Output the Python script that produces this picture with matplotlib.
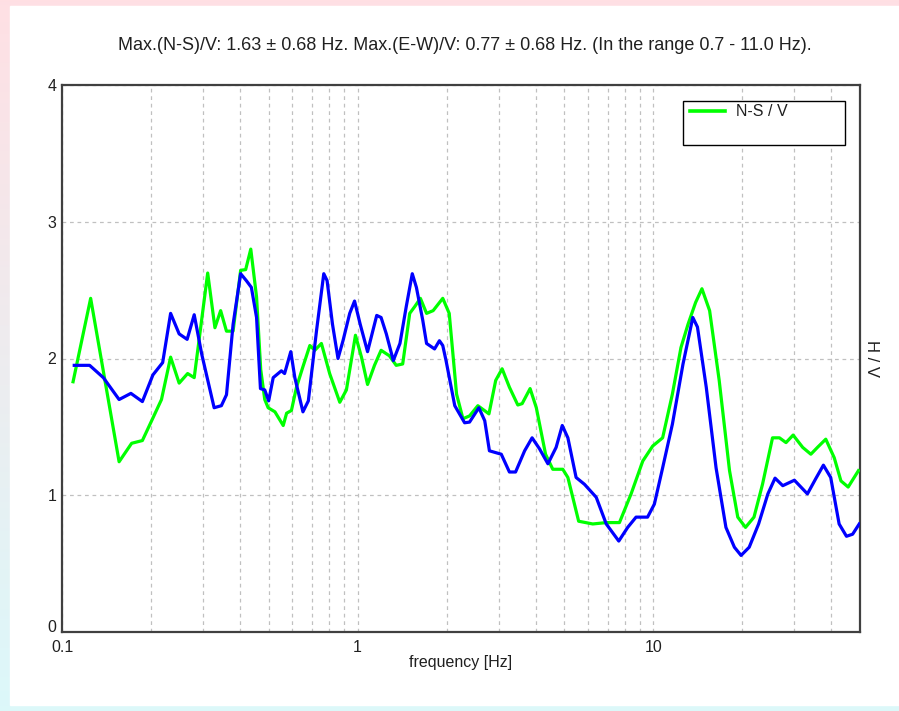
import numpy as np
import matplotlib
matplotlib.use("Agg")
import matplotlib.pyplot as plt
import matplotlib.transforms as mtransforms
from matplotlib.patches import Rectangle
from matplotlib.lines import Line2D
from matplotlib.ticker import FixedLocator, NullFormatter

plt.rcParams['font.family'] = ['Liberation Sans', 'DejaVu Sans']

title = "Max.(N-S)/V: 1.63 \u00b1 0.68 Hz. Max.(E-W)/V: 0.77 \u00b1 0.68 Hz. (In the range 0.7 - 11.0 Hz)."

# N-S / V curve (green)
ns_freq = [0.109, 0.125, 0.156, 0.172, 0.187, 0.201, 0.217, 0.233, 0.249, 0.266,
           0.280, 0.311, 0.329, 0.344, 0.360, 0.379, 0.402, 0.418, 0.435, 0.455,
           0.470, 0.485, 0.498, 0.525, 0.560, 0.575, 0.597, 0.621, 0.653, 0.689,
           0.716, 0.754, 0.804, 0.870, 0.916, 0.983, 1.03, 1.08, 1.14, 1.20,
           1.28, 1.35, 1.42, 1.50, 1.56, 1.63, 1.71, 1.80, 1.94, 2.04,
           2.16, 2.27, 2.39, 2.55, 2.78, 2.93, 3.08, 3.26, 3.48, 3.60,
           3.83, 4.02, 4.32, 4.57, 4.94, 5.14, 5.59, 6.24, 6.93, 7.68,
           8.41, 9.21, 9.95, 10.75, 11.6, 12.4, 13.1, 13.9, 14.6, 15.5,
           16.7, 18.1, 19.3, 20.5, 21.9, 23.4, 25.3, 26.7, 28.1, 29.7,
           32.0, 34.1, 35.9, 38.3, 40.9, 43.1, 45.6, 49.4]
ns_hv = [1.83, 2.44, 1.245, 1.38, 1.40, 1.545, 1.70, 2.01, 1.82, 1.89,
         1.86, 2.625, 2.225, 2.35, 2.20, 2.20, 2.645, 2.65, 2.80, 2.45,
         1.92, 1.70, 1.64, 1.61, 1.51, 1.60, 1.62, 1.79, 1.94, 2.095,
         2.06, 2.11, 1.89, 1.68, 1.77, 2.17, 2.01, 1.81, 1.95, 2.06,
         2.02, 1.95, 1.96, 2.33, 2.38, 2.44, 2.33, 2.35, 2.44, 2.33,
         1.74, 1.56, 1.58, 1.655, 1.595, 1.84, 1.925, 1.79, 1.66, 1.67,
         1.78, 1.64, 1.30, 1.19, 1.19, 1.13, 0.81, 0.79, 0.80, 0.80,
         1.01, 1.25, 1.36, 1.42, 1.74, 2.08, 2.25, 2.41, 2.51, 2.35,
         1.84, 1.18, 0.84, 0.765, 0.84, 1.08, 1.42, 1.42, 1.385, 1.44,
         1.35, 1.30, 1.35, 1.41, 1.275, 1.105, 1.06, 1.18]

# E-W / V curve (blue)
ew_freq = [0.110, 0.124, 0.138, 0.156, 0.171, 0.187, 0.203, 0.219, 0.233, 0.249,
           0.265, 0.280, 0.297, 0.327, 0.346, 0.360, 0.379, 0.402, 0.420, 0.437,
           0.455, 0.469, 0.485, 0.500, 0.518, 0.552, 0.566, 0.594, 0.613, 0.653,
           0.681, 0.726, 0.768, 0.788, 0.822, 0.858, 0.892, 0.940, 0.976, 1.02,
           1.08, 1.16, 1.20, 1.25, 1.32, 1.39, 1.46, 1.53, 1.58, 1.66,
           1.71, 1.82, 1.89, 1.94, 1.99, 2.13, 2.30, 2.39, 2.57, 2.69,
           2.79, 3.06, 3.26, 3.42, 3.67, 3.89, 4.12, 4.40, 4.69, 4.92,
           5.14, 5.48, 5.85, 6.41, 6.93, 7.64, 8.19, 8.74, 9.56, 10.08,
           10.75, 11.6, 12.6, 13.6, 14.1, 15.1, 16.3, 17.6, 18.8, 19.8,
           21.1, 22.7, 24.4, 25.8, 27.4, 30.0, 33.2, 35.4, 37.6, 39.8,
           42.5, 45.0, 47.2, 49.7]
ew_hv = [1.95, 1.95, 1.86, 1.70, 1.745, 1.685, 1.88, 1.97, 2.33, 2.18,
         2.14, 2.32, 2.03, 1.64, 1.655, 1.735, 2.25, 2.62, 2.57, 2.52,
         2.30, 1.78, 1.77, 1.69, 1.86, 1.91, 1.89, 2.05, 1.86, 1.61,
         1.69, 2.205, 2.62, 2.57, 2.25, 2.00, 2.13, 2.33, 2.42, 2.25,
         2.05, 2.315, 2.30, 2.18, 1.985, 2.11, 2.38, 2.62, 2.52, 2.28,
         2.11, 2.07, 2.13, 2.095, 1.985, 1.655, 1.53, 1.535, 1.64, 1.545,
         1.325, 1.30, 1.17, 1.17, 1.325, 1.42, 1.34, 1.23, 1.35, 1.51,
         1.42, 1.13, 1.08, 0.985, 0.79, 0.665, 0.765, 0.84, 0.84, 0.935,
         1.20, 1.52, 1.96, 2.30, 2.23, 1.79, 1.20, 0.765, 0.62, 0.56,
         0.62, 0.79, 1.01, 1.125, 1.07, 1.11, 1.01, 1.12, 1.22, 1.13,
         0.79, 0.70, 0.715, 0.79]

x_ticks = [0.1, 1, 10]
x_ticklabels = ["0.1", "1", "10"]
y_ticks = [0, 1, 2, 3, 4]

fig = plt.figure(figsize=(8.99, 7.11), dpi=100)

# gradient frame behind a white panel
bg = fig.add_axes([0, 0, 1, 1], zorder=-10)
top_col = np.array([1.0, 0.878, 0.894])
bot_col = np.array([0.863, 0.973, 0.980])
t = np.linspace(0, 1, 256)[:, None]
grad = top_col[None, :] * (1 - t) + bot_col[None, :] * t
bg.imshow(grad[:, None, :], aspect='auto', extent=[0, 1, 0, 1], origin='upper')
bg.add_patch(Rectangle((10 / 899, 6 / 711), 1, 1 - 12 / 711, color='white'))
bg.set_xlim(0, 1)
bg.set_ylim(0, 1)
bg.axis('off')

ax = fig.add_axes([62 / 899, 1 - 632 / 711, 798 / 899, 547 / 711])
ax.set_facecolor('white')

ax.plot(ns_freq, ns_hv, color='#00ff00', lw=2.3, zorder=3)
ax.plot(ew_freq, ew_hv, color='#0000ff', lw=2.3, zorder=4)

ax.set_xscale('log')
ax.set_xlim(0.1, 50)
ax.set_ylim(0, 4)

ax.xaxis.set_major_locator(FixedLocator(x_ticks))
ax.set_xticklabels(x_ticklabels)
ax.xaxis.set_minor_locator(FixedLocator([m * d for d in (0.1, 1, 10) for m in range(2, 10) if m * d < 50]))
ax.xaxis.set_minor_formatter(NullFormatter())
ax.set_yticks(y_ticks)
ax.tick_params(axis='both', which='both', length=0, labelsize=11.5, colors='#202020')
ax.tick_params(axis='y', pad=4)
ax.tick_params(axis='x', pad=6)

grid_kw = dict(color='#c0c0c0', lw=0.9, ls=(0, (3, 3)))
ax.grid(True, which='both', axis='x', **grid_kw)
ax.grid(True, which='major', axis='y', **grid_kw)
ax.set_axisbelow(True)

for s in ax.spines.values():
    s.set_color('#404040')
    s.set_linewidth(1.6)

ax.set_xlabel("frequency [Hz]", fontsize=11.5, color='#202020', labelpad=0)
ax.yaxis.set_label_position('right')
ax.set_ylabel("H / V", fontsize=12, color='#202020', rotation=270, labelpad=14)

fig.text(465 / 899, 1 - 45 / 711, title, ha='center', va='center',
         fontsize=13, color='#202020')

# legend box
ax.add_patch(Rectangle((0.778, 0.890), 0.203, 0.081, transform=ax.transAxes,
                       facecolor='white', edgecolor='black', lw=1.0, zorder=6))
ax.add_line(Line2D([0.787, 0.831], [0.952, 0.952], transform=ax.transAxes,
                   color='#00ff00', lw=2.6, zorder=7))
ax.text(0.845, 0.952, "N-S / V", transform=ax.transAxes, ha='left', va='center',
        fontsize=11.5, color='#202020', zorder=7)

# lift the "0" label a little so it clears "0.1"
zero_lbl = ax.yaxis.get_major_ticks()[0].label1
zero_lbl.set_transform(zero_lbl.get_transform() +
                       mtransforms.ScaledTranslation(0, 4 / 72, fig.dpi_scale_trans))

fig.savefig("out.png", dpi=100)
